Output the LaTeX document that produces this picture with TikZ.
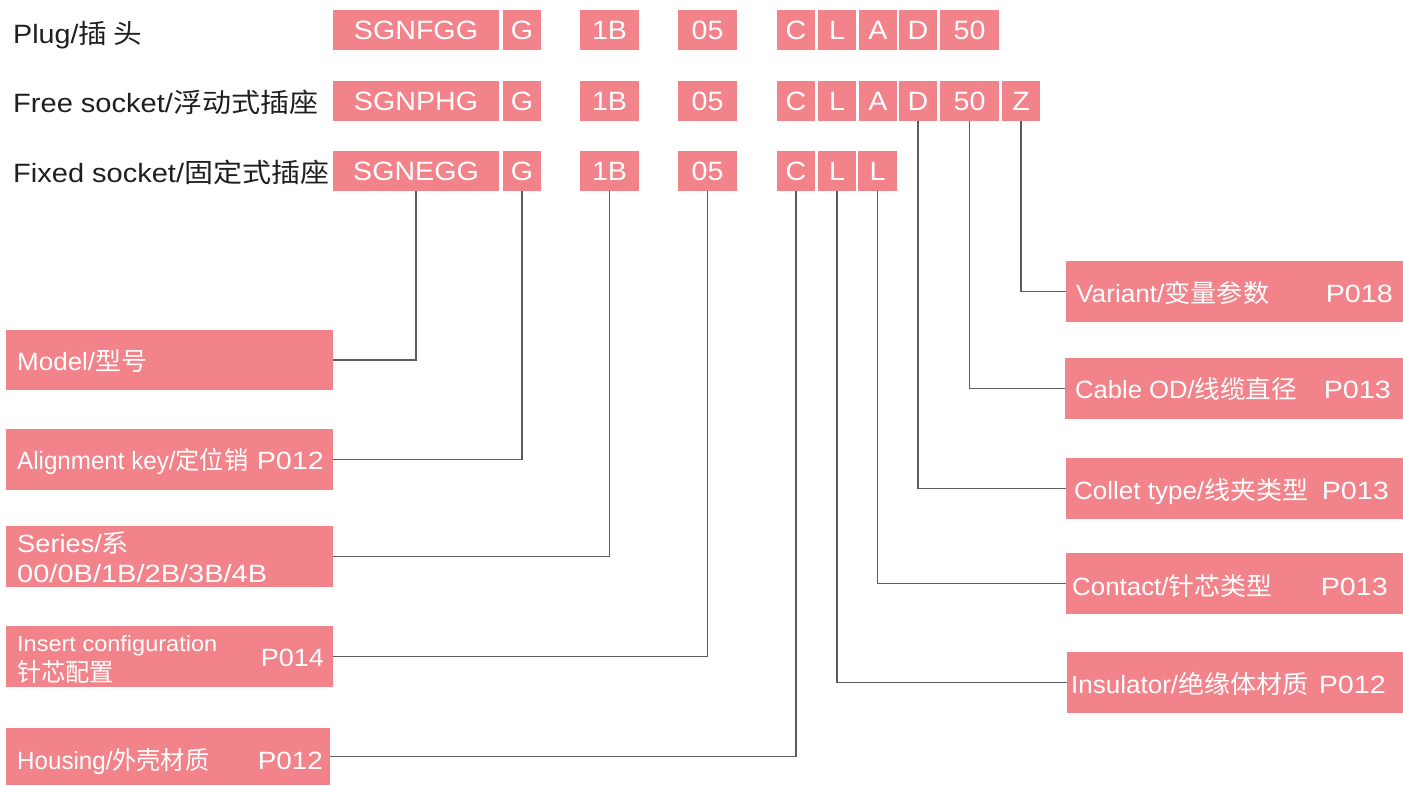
\documentclass[tikz,border=0pt]{standalone}
\usepackage{graphicx}
\usepackage{fontspec}
\setmainfont{Liberation Sans}
\newfontfamily\cjkfont{Noto Sans CJK SC}
\newcommand{\zhs}[1]{{\cjkfont #1}}
\newcommand{\fitw}[2]{\resizebox{#1pt}{\height}{#2}}
\newcommand{\wtxt}[1]{\scalebox{1.08}[1]{#1}}
\definecolor{pinkbox}{HTML}{F2838A}
\definecolor{linegray}{HTML}{5C5C5C}
\begin{document}
\begin{tikzpicture}[x=1pt,y=-1pt,
  box/.style={fill=pinkbox, draw=none, inner sep=0pt, outer sep=0pt},
  code/.style={box, text=white, font=\fontsize{26.5}{30}\selectfont, text height=19pt, text depth=0pt, minimum height=40pt},
  lbl/.style={inner sep=0pt, anchor=base west, font=\fontsize{25}{29}\selectfont},
  toplbl/.style={lbl, text=black!88, font=\fontsize{26.5}{30}\selectfont},
  wlbl/.style={lbl, text=white},
  conn/.style={draw=linegray, line width=1.1pt}]
\useasboundingbox (0,0) rectangle (1403,785);
% top labels
\node[toplbl] (plug) at (13,43) {\fitw{129}{Plug/\zhs{插 头}}};
\node[toplbl] (free) at (13,112) {\fitw{305}{Free socket/\zhs{浮动式插座}}};
\node[toplbl] (fixed) at (13,182) {\fitw{316}{Fixed socket/\zhs{固定式插座}}};
% row 1
\node[code, minimum width=166pt] (p1sgn) at (416,30) {\wtxt{SGNFGG}};
\node[code, minimum width=38pt] (p1g) at (522,30) {\wtxt{G}};
\node[code, minimum width=59pt] (p11b) at (609.5,30) {\wtxt{1B}};
\node[code, minimum width=59pt] (p105) at (707.5,30) {\wtxt{05}};
\node[code, minimum width=38pt] (p1c) at (796,30) {\wtxt{C}};
\node[code, minimum width=38pt] (p1l) at (837,30) {\wtxt{L}};
\node[code, minimum width=38pt] (p1a) at (878,30) {\wtxt{A}};
\node[code, minimum width=38pt] (p1d) at (918,30) {\wtxt{D}};
\node[code, minimum width=59pt] (p150) at (969.5,30) {\wtxt{50}};
% row 2
\node[code, minimum width=166pt] (p2sgn) at (416,101) {\wtxt{SGNPHG}};
\node[code, minimum width=38pt] (p2g) at (522,101) {\wtxt{G}};
\node[code, minimum width=59pt] (p21b) at (609.5,101) {\wtxt{1B}};
\node[code, minimum width=59pt] (p205) at (707.5,101) {\wtxt{05}};
\node[code, minimum width=38pt] (p2c) at (796,101) {\wtxt{C}};
\node[code, minimum width=38pt] (p2l) at (837,101) {\wtxt{L}};
\node[code, minimum width=38pt] (p2a) at (878,101) {\wtxt{A}};
\node[code, minimum width=38pt] (p2d) at (918,101) {\wtxt{D}};
\node[code, minimum width=59pt] (p250) at (969.5,101) {\wtxt{50}};
\node[code, minimum width=38pt] (p2z) at (1021,101) {\wtxt{Z}};
% row 3
\node[code, minimum width=166pt] (p3sgn) at (416,171) {\wtxt{SGNEGG}};
\node[code, minimum width=38pt] (p3g) at (522,171) {\wtxt{G}};
\node[code, minimum width=59pt] (p31b) at (609.5,171) {\wtxt{1B}};
\node[code, minimum width=59pt] (p305) at (707.5,171) {\wtxt{05}};
\node[code, minimum width=38pt] (p3c) at (796,171) {\wtxt{C}};
\node[code, minimum width=38pt] (p3l) at (837,171) {\wtxt{L}};
\node[code, minimum width=39pt] (p3lb) at (877.5,171) {\wtxt{L}};
% left boxes
\node[box, minimum width=327pt, minimum height=60pt] (model) at (169.5,360) {};
\node[box, minimum width=327pt, minimum height=61pt] (align) at (169.5,459.5) {};
\node[box, minimum width=327pt, minimum height=61pt] (series) at (169.5,556.5) {};
\node[box, minimum width=327pt, minimum height=61pt] (insert) at (169.5,656.5) {};
\node[box, minimum width=324pt, minimum height=57pt] (housing) at (168,756.5) {};
% right boxes
\node[box, minimum width=337pt, minimum height=61pt] (variant) at (1234.5,291.5) {};
\node[box, minimum width=338pt, minimum height=61pt] (cable) at (1234,388.5) {};
\node[box, minimum width=337pt, minimum height=61pt] (collet) at (1234.5,488.5) {};
\node[box, minimum width=337pt, minimum height=61pt] (contact) at (1234.5,583.5) {};
\node[box, minimum width=336pt, minimum height=61pt] (insul) at (1235,682.5) {};
% left texts
\node[wlbl] (tmodel) at (17,370) {\fitw{130}{Model/\zhs{型号}}};
\node[wlbl] (talign) at (17,469) {\fitw{231}{Alignment key/\zhs{定位销}}};
\node[wlbl, anchor=base east] (palign) at (324,469) {\fitw{67}{P012}};
\node[wlbl] (tser1) at (17,552) {\fitw{112}{Series/\zhs{系}}};
\node[wlbl] (tser2) at (17,582) {\fitw{250}{00/0B/1B/2B/3B/4B}};
\node[wlbl, font=\fontsize{22}{26}\selectfont] (tins1) at (17,651) {\fitw{200}{Insert configuration}};
\node[wlbl] (tins2) at (17,681) {\fitw{97}{\zhs{针芯配置}}};
\node[wlbl, anchor=base east] (pins) at (324,666) {\fitw{63}{P014}};
\node[wlbl] (thous) at (17,769) {\fitw{192}{Housing/\zhs{外壳材质}}};
\node[wlbl, anchor=base east] (phous) at (323,769) {\fitw{65}{P012}};
% right texts
\node[wlbl] (tvar) at (1076,302) {\fitw{193}{Variant/\zhs{变量参数}}};
\node[wlbl, anchor=base east] (pvar) at (1393,302) {\fitw{67}{P018}};
\node[wlbl] (tcab) at (1075,398) {\fitw{222}{Cable OD/\zhs{线缆直径}}};
\node[wlbl, anchor=base east] (pcab) at (1391,398) {\fitw{67}{P013}};
\node[wlbl] (tcol) at (1074,499) {\fitw{234}{Collet type/\zhs{线夹类型}}};
\node[wlbl, anchor=base east] (pcol) at (1389,499) {\fitw{67}{P013}};
\node[wlbl] (tcon) at (1072,595) {\fitw{200}{Contact/\zhs{针芯类型}}};
\node[wlbl, anchor=base east] (pcon) at (1388,595) {\fitw{67}{P013}};
\node[wlbl] (tins) at (1071,693) {\fitw{237}{Insulator/\zhs{绝缘体材质}}};
\node[wlbl, anchor=base east] (pinsu) at (1386,693) {\fitw{67}{P012}};
% connectors
\draw[conn] (p3sgn.south) |- (model.east);
\draw[conn] (p3g.south) |- (align.east);
\draw[conn] (p31b.south) |- (series.east);
\draw[conn] (p305.south) |- (insert.east);
\draw[conn] (p3c.south) |- (housing.east);
\draw[conn] (p3l.south) |- (insul.west);
\draw[conn] (p3lb.south) |- (contact.west);
\draw[conn] (p2d.south) |- (collet.west);
\draw[conn] (p250.south) |- (cable.west);
\draw[conn] (p2z.south) |- (variant.west);
\end{tikzpicture}
\end{document}
